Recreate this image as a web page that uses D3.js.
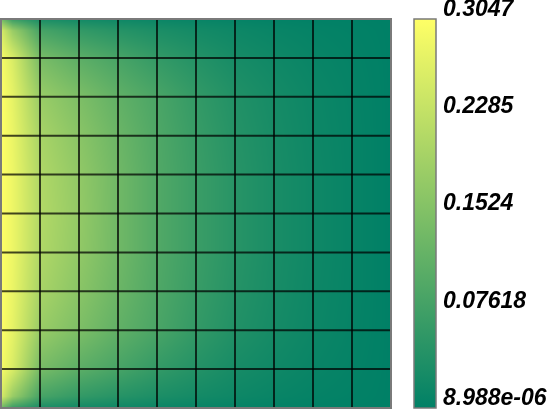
<!DOCTYPE html>
<html>
<head>
<meta charset="utf-8">
<script src="https://cdn.jsdelivr.net/npm/d3@7"></script>
<style>
  html, body { margin: 0; padding: 0; background: #fff; }
  #wrap { position: relative; width: 550px; height: 410px; overflow: hidden; }
  canvas, svg { position: absolute; left: 0; top: 0; }
</style>
</head>
<body>
<div id="wrap"></div>
<script>
// ---- data ----
const vMin = 8.988e-06;
const vMax = 0.3047;
const tickValues = [8.988e-06, 0.07618, 0.1524, 0.2285, 0.3047];
const tickLabels = ["8.988e-06", "0.07618", "0.1524", "0.2285", "0.3047"];
const meshCells = 10;
// node positions in cell units (x: left->right, y: top->bottom)
const xNodes = [0, 0.3, 1, 2, 3, 4, 5, 6, 7, 8, 9, 10];
const yNodes = [0, 0.3, 1, 2, 3, 4, 5, 6, 7, 8, 9, 9.7, 10];
// field values at nodes, one row per yNode
const rowY0   = [0.1371,0.0670,0.0305,0.0213,0.0168,0.0122,0.0091,0.0061,0.0037,0.0018,0.0009,0.00001];
const rowY03  = [0.2590,0.1828,0.0853,0.0609,0.0457,0.0335,0.0244,0.0168,0.0107,0.0061,0.0030,0.00001];
const rowY1   = [0.2956,0.2590,0.1432,0.1097,0.0853,0.0609,0.0427,0.0274,0.0183,0.0107,0.0052,0.00001];
const rowY2   = [0.3047,0.2742,0.1828,0.1493,0.1158,0.0884,0.0609,0.0396,0.0259,0.0152,0.0073,0.00001];
const rowY3   = [0.3047,0.2803,0.2011,0.1645,0.1280,0.0945,0.0670,0.0442,0.0289,0.0168,0.0082,0.00001];
const rowY4   = [0.3047,0.2834,0.2102,0.1737,0.1341,0.0975,0.0701,0.0472,0.0305,0.0183,0.0085,0.00001];
const rowY5   = [0.3047,0.2834,0.2133,0.1767,0.1341,0.0975,0.0701,0.0472,0.0305,0.0183,0.0085,0.00001];
const rowY6   = [0.3047,0.2834,0.2102,0.1737,0.1341,0.0975,0.0701,0.0472,0.0305,0.0183,0.0085,0.00001];
const rowY7   = [0.3047,0.2803,0.2011,0.1645,0.1280,0.0945,0.0670,0.0442,0.0289,0.0168,0.0082,0.00001];
const rowY8   = [0.3047,0.2742,0.1828,0.1493,0.1158,0.0884,0.0609,0.0396,0.0259,0.0152,0.0073,0.00001];
const rowY9   = [0.2956,0.2590,0.1432,0.1097,0.0853,0.0609,0.0427,0.0274,0.0183,0.0107,0.0052,0.00001];
const rowY97  = [0.2590,0.1828,0.0853,0.0609,0.0457,0.0335,0.0244,0.0168,0.0107,0.0061,0.0030,0.00001];
const rowY10  = [0.1371,0.0670,0.0305,0.0213,0.0168,0.0122,0.0091,0.0061,0.0037,0.0018,0.0009,0.00001];
const field = [rowY0,rowY03,rowY1,rowY2,rowY3,rowY4,rowY5,rowY6,rowY7,rowY8,rowY9,rowY97,rowY10];

// ---- layout ----
const W = 550, H = 410;
const plot = { x0: 1, x1: 391, y0: 19, y1: 408 };
const bar = { x0: 414, x1: 436, y0: 19, y1: 408 };

const xs = d3.scaleLinear().domain([0, meshCells]).range([plot.x0, plot.x1]);
const ys = d3.scaleLinear().domain([0, meshCells]).range([plot.y0, plot.y1]);
const color = d3.scaleLinear().domain([vMin, vMax]).range(["#008066", "#ffff66"])
  .interpolate(d3.interpolateRgb).clamp(true);

const wrap = d3.select("#wrap");

// ---- heat map on canvas ----
const pw = plot.x1 - plot.x0, ph = plot.y1 - plot.y0;
const canvas = wrap.append("canvas")
  .attr("width", pw).attr("height", ph)
  .style("left", plot.x0 + "px").style("top", plot.y0 + "px");
const ctx = canvas.node().getContext("2d");
const img = ctx.createImageData(pw, ph);

function locate(nodes, u) {
  let i = d3.bisectRight(nodes, u) - 1;
  i = Math.max(0, Math.min(nodes.length - 2, i));
  const f = (u - nodes[i]) / (nodes[i + 1] - nodes[i]);
  return [i, Math.max(0, Math.min(1, f))];
}
for (let py = 0; py < ph; py++) {
  const v = ys.invert(plot.y0 + py + 0.5);
  const [j, fy] = locate(yNodes, v);
  for (let px = 0; px < pw; px++) {
    const u = xs.invert(plot.x0 + px + 0.5);
    const [i, fx] = locate(xNodes, u);
    const a = field[j][i], b = field[j][i + 1], c = field[j + 1][i], d = field[j + 1][i + 1];
    const val = (a * (1 - fx) + b * fx) * (1 - fy) + (c * (1 - fx) + d * fx) * fy;
    const col = d3.rgb(color(val));
    const k = (py * pw + px) * 4;
    img.data[k] = col.r; img.data[k + 1] = col.g; img.data[k + 2] = col.b; img.data[k + 3] = 255;
  }
}
ctx.putImageData(img, 0, 0);

// ---- SVG overlay ----
const svg = wrap.append("svg").attr("width", W).attr("height", H);

const lines = d3.range(1, meshCells);
svg.append("g").selectAll("line.v").data(lines).join("line")
  .attr("x1", d => xs(d)).attr("x2", d => xs(d))
  .attr("y1", plot.y0).attr("y2", plot.y1)
  .attr("stroke", "#000").attr("stroke-opacity", 0.72).attr("stroke-width", 2);
svg.append("g").selectAll("line.h").data(lines).join("line")
  .attr("y1", d => ys(d)).attr("y2", d => ys(d))
  .attr("x1", plot.x0).attr("x2", plot.x1)
  .attr("stroke", "#000").attr("stroke-opacity", 0.72).attr("stroke-width", 2);
svg.append("rect")
  .attr("x", plot.x0).attr("y", plot.y0)
  .attr("width", pw).attr("height", ph)
  .attr("fill", "none").attr("stroke", "#7a7a7a").attr("stroke-width", 2);

// ---- colour bar ----
const defs = svg.append("defs");
const grad = defs.append("linearGradient").attr("id", "cbar")
  .attr("x1", 0).attr("y1", 1).attr("x2", 0).attr("y2", 0);
d3.range(0, 1.0001, 0.1).forEach(t => {
  grad.append("stop").attr("offset", t).attr("stop-color", color(vMin + t * (vMax - vMin)));
});
svg.append("rect")
  .attr("x", bar.x0).attr("y", bar.y0)
  .attr("width", bar.x1 - bar.x0).attr("height", bar.y1 - bar.y0)
  .attr("fill", "url(#cbar)").attr("stroke", "#7a7a7a").attr("stroke-width", 1.5);

const cy = d3.scaleLinear().domain([vMin, vMax]).range([bar.y1, bar.y0]);
svg.append("g").selectAll("text").data(tickValues).join("text")
  .attr("x", 443)
  .attr("y", d => cy(d) - 3)
  .attr("font-family", "Liberation Sans, Arial, sans-serif")
  .attr("font-size", 23)
  .attr("font-weight", "bold")
  .attr("font-style", "italic")
  .attr("fill", "#000")
  .text((d, i) => tickLabels[i]);
</script>
</body>
</html>
